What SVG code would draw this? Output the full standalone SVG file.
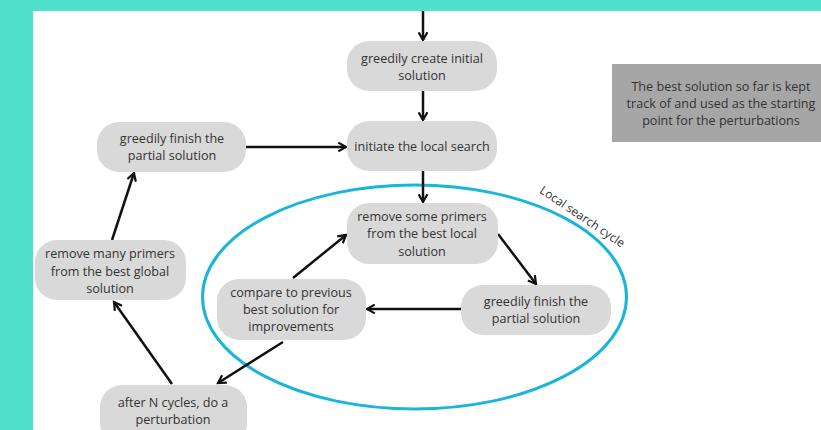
<svg xmlns="http://www.w3.org/2000/svg" width="821" height="430" viewBox="0 0 821 430">
<defs>
<style>
.n{fill:#d9d9d9}
.t{font-family:"Open Sans","Liberation Sans",sans-serif;font-size:12.6px;fill:#333;text-anchor:middle}
.c{stroke:#111;stroke-width:2.5;fill:none;marker-end:url(#ah)}
</style>
<marker id="ah" viewBox="0 0 10 10" refX="8" refY="5" markerWidth="4.4" markerHeight="4.4" orient="auto" markerUnits="strokeWidth">
<path d="M1,1 L8,5 L1,9" fill="none" stroke="#111" stroke-width="2"/>
</marker>
</defs>
<rect x="0" y="0" width="821" height="430" fill="#ffffff"/>
<rect x="0" y="0" width="821" height="11" fill="#50e0cb"/>
<rect x="0" y="0" width="33" height="430" fill="#50e0cb"/>

<g id="cycle">
<ellipse cx="414.5" cy="297" rx="212" ry="112" fill="none" stroke="#1ab6da" stroke-width="3"/>
<text class="t" transform="translate(580,220) rotate(34)" style="font-size:12px">Local search cycle</text>
</g>

<g id="connectors">
<line class="c" x1="423" y1="11" x2="423" y2="40"/>
<line class="c" x1="423" y1="91" x2="423" y2="120"/>
<line class="c" x1="246" y1="147" x2="346" y2="147"/>
<line class="c" x1="423" y1="171" x2="423" y2="202"/>
<line class="c" x1="498" y1="234" x2="536" y2="284"/>
<line class="c" x1="461" y1="309" x2="367" y2="309"/>
<line class="c" x1="293" y1="278" x2="346" y2="235"/>
<line class="c" x1="283" y1="342" x2="218" y2="383"/>
<line class="c" x1="172" y1="384" x2="114" y2="302"/>
<line class="c" x1="112" y1="240" x2="134" y2="173"/>
</g>

<g id="n1">
<rect class="n" x="347" y="41" width="150" height="50" rx="22"/>
<text class="t" x="422" y="63">greedily create initial</text>
<text class="t" x="422" y="80">solution</text>
</g>
<g id="n2">
<rect class="n" x="347" y="121" width="150" height="50" rx="22"/>
<text class="t" x="422" y="151">initiate the local search</text>
</g>
<g id="note">
<rect x="612" y="64" width="209" height="78" fill="#a6a6a6"/>
<text class="t" x="721" y="91">The best solution so far is kept</text>
<text class="t" x="721" y="108">track of and used as the starting</text>
<text class="t" x="721" y="125">point for the perturbations</text>
</g>
<g id="n3">
<rect class="n" x="97" y="122" width="149" height="50" rx="22"/>
<text class="t" x="172" y="143">greedily finish the</text>
<text class="t" x="172" y="160">partial solution</text>
</g>
<g id="n4">
<rect class="n" x="35" y="240" width="151" height="60" rx="22"/>
<text class="t" x="110" y="258">remove many primers</text>
<text class="t" x="110" y="276">from the best global</text>
<text class="t" x="110" y="293">solution</text>
</g>
<g id="n5">
<rect class="n" x="347" y="203" width="151" height="61" rx="22"/>
<text class="t" x="422" y="221">remove some primers</text>
<text class="t" x="422" y="238">from the best local</text>
<text class="t" x="422" y="256">solution</text>
</g>
<g id="n6">
<rect class="n" x="461" y="285" width="150" height="50" rx="22"/>
<text class="t" x="536" y="306">greedily finish the</text>
<text class="t" x="536" y="323">partial solution</text>
</g>
<g id="n7">
<rect class="n" x="217" y="279" width="149" height="61" rx="22"/>
<text class="t" x="291" y="297">compare to previous</text>
<text class="t" x="291" y="314">best solution for</text>
<text class="t" x="291" y="331">improvements</text>
</g>
<g id="n8">
<rect class="n" x="100" y="385" width="147" height="60" rx="22"/>
<text class="t" x="173" y="407">after N cycles, do a</text>
<text class="t" x="173" y="424">perturbation</text>
</g>
</svg>
